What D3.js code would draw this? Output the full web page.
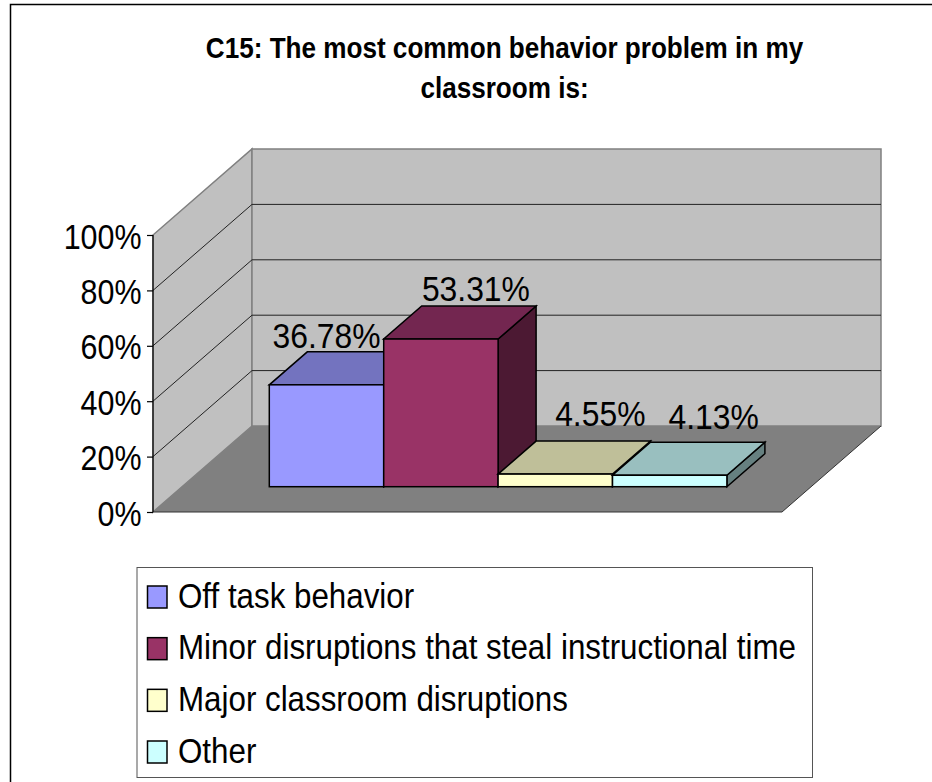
<!DOCTYPE html>
<html>
<head>
<meta charset="utf-8">
<script src="https://cdn.jsdelivr.net/npm/d3@7"></script>
<style>
html,body{margin:0;padding:0;background:#fff;overflow:hidden}
svg{display:block}
text{font-family:"Liberation Sans",Arial,sans-serif;fill:#000}
</style>
</head>
<body>
<svg id="c" width="932" height="782"></svg>
<script>
const titleLines = ["C15: The most common behavior problem in my", "classroom is:"];
const categories = ["Off task behavior", "Minor disruptions that steal instructional time", "Major classroom disruptions", "Other"];
const values = [36.78, 53.31, 4.55, 4.13];
const valueLabels = ["36.78%", "53.31%", "4.55%", "4.13%"];
const colors = ["#9999FF", "#993366", "#FFFFCC", "#CCFFFF"];
const topColors = ["#7373BF", "#732650", "#BFBF99", "#99BFBF"];
const sideColors = ["#4C4C80", "#4C1933", "#808066", "#668080"];
const tickValues = [0, 20, 40, 60, 80, 100];

const svg = d3.select("#c");
const y = d3.scaleLinear().domain([0, 100]).range([512, 235]);
const x = d3.scaleBand().domain(categories).range([269.3, 726.9]).padding(0);
const wall = {dx: 99, dy: -86};
const bar = {dx: 38, dy: -33};
const floorOffset = 25.3;
const plotLeft = 153, plotRight = 782;
const line = d3.line();
const poly = pts => line(pts) + "Z";

// frame (top and left edges only)
svg.append("path").attr("d", "M10.5,782V4.5H932").attr("fill", "none").attr("stroke", "#000").attr("stroke-width", 1.5);

// title
svg.selectAll("text.title").data(titleLines).join("text").attr("class", "title")
  .attr("transform", (d, i) => `translate(504.5,${58 + i * 40}) scale(0.87,1)`)
  .attr("text-anchor", "middle").attr("font-weight", "bold").attr("font-size", 30)
  .text(d => d);

// walls and floor
const bx = plotLeft + wall.dx, bxr = plotRight + wall.dx;
svg.append("path").attr("d", poly([[plotLeft, y(0)], [bx, y(0) + wall.dy], [bx, y(100) + wall.dy], [plotLeft, y(100)]]))
  .attr("fill", "#C0C0C0").attr("stroke", "#808080").attr("stroke-width", 1.5);
svg.append("path").attr("d", poly([[bx, y(0) + wall.dy], [bxr, y(0) + wall.dy], [bxr, y(100) + wall.dy], [bx, y(100) + wall.dy]]))
  .attr("fill", "#C0C0C0").attr("stroke", "#808080").attr("stroke-width", 1.5);
svg.append("path").attr("d", poly([[plotLeft, y(0)], [plotRight, y(0)], [bxr, y(0) + wall.dy], [bx, y(0) + wall.dy]]))
  .attr("fill", "#808080");
svg.append("path").attr("d", line([[plotLeft, y(0)], [plotRight, y(0)], [bxr, y(0) + wall.dy]]))
  .attr("fill", "none").attr("stroke", "#333").attr("stroke-width", 1);

// gridlines
const gridTicks = tickValues.filter(t => t > 0 && t < 100);
svg.selectAll("path.grid").data(gridTicks).join("path").attr("class", "grid")
  .attr("d", t => line([[plotLeft, y(t)], [bx, y(t) + wall.dy], [bxr, y(t) + wall.dy]]))
  .attr("fill", "none").attr("stroke", "#222").attr("stroke-width", 1);

// axis
const axisG = svg.append("g").attr("transform", `translate(${plotLeft},0)`)
  .call(d3.axisLeft(y).tickValues(tickValues).tickSize(6).tickPadding(6).tickFormat(d => d + "%"));
axisG.selectAll("path.domain").attr("stroke", "#000").attr("stroke-width", 1.2).attr("d", `M0,${y(0)}V${y(100)}`);
axisG.selectAll("line").attr("stroke", "#000").attr("stroke-width", 1.2);
axisG.selectAll("text").attr("font-family", '"Liberation Sans",Arial,sans-serif').attr("font-size", 35)
  .attr("fill", "#000").attr("x", 0).attr("dy", 0).attr("transform", "translate(-11.5,13) scale(0.87,1)");

// bars
const base = y(0) - floorOffset;
const h = v => y(0) - y(v);
const bars = svg.selectAll("g.bar").data(categories.map((c, i) => ({c, i, v: values[i]}))).join("g").attr("class", "bar");
const bw = x.bandwidth();
const stroke = s => s.attr("stroke", "#000").attr("stroke-width", 1.5).attr("stroke-linejoin", "miter");
bars.append("path").attr("fill", d => sideColors[d.i]).call(stroke)
  .attr("d", d => { const l = x(d.c) + bw, t = base - h(d.v); return poly([[l, base], [l + bar.dx, base + bar.dy], [l + bar.dx, t + bar.dy], [l, t]]); });
bars.append("path").attr("fill", d => topColors[d.i]).call(stroke)
  .attr("d", d => { const l = x(d.c), t = base - h(d.v); return poly([[l, t], [l + bw, t], [l + bw + bar.dx, t + bar.dy], [l + bar.dx, t + bar.dy]]); });
bars.append("rect").attr("fill", d => colors[d.i]).call(stroke)
  .attr("x", d => x(d.c)).attr("y", d => base - h(d.v)).attr("width", bw).attr("height", d => h(d.v));

// value labels
const labelShiftX = [0, 35, 45, 44];
const labelShiftY = [-37, -38, -48, -46];
svg.selectAll("text.val").data(valueLabels).join("text").attr("class", "val")
  .attr("transform", (d, i) => `translate(${x(categories[i]) + bw / 2 + labelShiftX[i]},${base - h(values[i]) + labelShiftY[i]}) scale(0.91,1)`)
  .attr("text-anchor", "middle").attr("font-size", 35).text(d => d);

// legend
svg.append("rect").attr("x", 137).attr("y", 567.5).attr("width", 675.5).attr("height", 210)
  .attr("fill", "#fff").attr("stroke", "#555").attr("stroke-width", 1);
const rowY = d3.scalePoint().domain(categories).range([597, 752]);
const leg = svg.selectAll("g.leg").data(categories).join("g").attr("class", "leg")
  .attr("transform", d => `translate(0,${rowY(d)})`);
leg.append("rect").attr("x", 147.5).attr("y", -11).attr("width", 19.5).attr("height", 22)
  .attr("fill", (d, i) => colors[i]).attr("stroke", "#000").attr("stroke-width", 1.5);
leg.append("text").attr("transform", "translate(178,10.5) scale(0.895,1)").attr("font-size", 35).text(d => d);
</script>
</body>
</html>
